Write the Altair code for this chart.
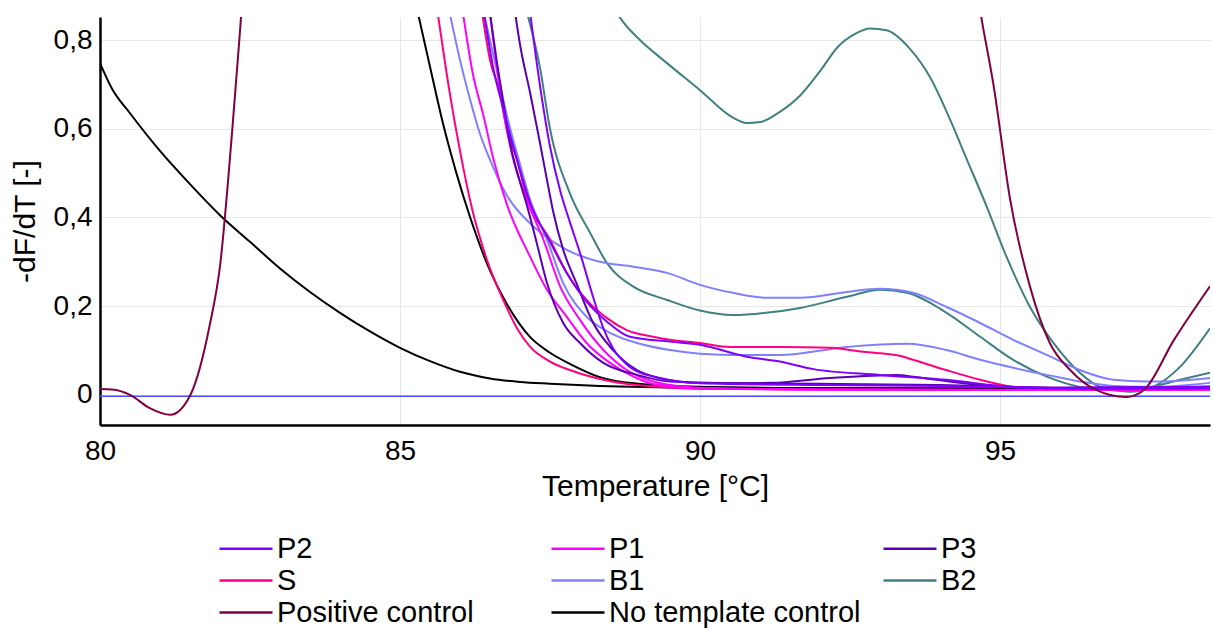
import altair as alt
import pandas as pd

FONT = "Liberation Sans"

SERIES = ["P2", "P1", "P3", "S", "B1", "B2", "Positive control", "No template control"]
COLORS = ["#8000ff", "#ff00ff", "#5a00b4", "#ff0080", "#8080ff", "#408080", "#800040", "#000000"]

X_TICKS = [80, 85, 90, 95]
Y_TICKS = [0, 0.2, 0.4, 0.6, 0.8]

# ---- curves (temperature, -dF/dT) ----
PC_T = [80.0, 80.2, 80.5, 80.83, 81.17, 81.5, 81.83, 82.0, 82.2, 82.35, 82.6, 83.5, 88.5, 93.5, 94.4,
        94.69, 94.89, 95.17, 95.5, 95.83, 96.17, 96.6, 97.1, 97.4, 97.9, 98.5]
PC_Y = [0.013, 0.012, 0.0, -0.03, -0.045, -0.002, 0.158, 0.29, 0.59, 0.85, 1.3, 2.6, 3.5, 2.2, 1.1,
        0.85, 0.70, 0.44, 0.244, 0.117, 0.056, 0.011, -0.005, 0.011, 0.124, 0.245]

NTC1_T = [80.0, 80.2, 80.5, 81.0, 81.5, 82.0, 82.5, 83.0, 83.5, 84.0, 84.5, 85.0, 85.5, 86.0, 86.5, 87.0,
          87.5, 88.33, 90.0, 92.0, 94.0, 96.0, 98.5]
NTC1_Y = [0.748, 0.69, 0.635, 0.55, 0.475, 0.405, 0.345, 0.285, 0.232, 0.185, 0.143, 0.106, 0.076, 0.052,
          0.037, 0.029, 0.025, 0.02, 0.016, 0.015, 0.015, 0.014, 0.016]

NTC2_T = [85.3, 85.5, 85.72, 85.94, 86.17, 86.5, 86.78, 87.17, 87.5, 87.83, 88.33, 88.9, 90.0, 92.0, 94.0, 96.0, 98.5]
NTC2_Y = [0.86, 0.74, 0.61, 0.50, 0.40, 0.28, 0.205, 0.13, 0.095, 0.07, 0.04, 0.026, 0.018, 0.015, 0.014, 0.013, 0.018]

S1_T = [85.63, 85.83, 86.0, 86.2, 86.45, 86.72, 86.95, 87.17, 87.5, 87.83, 88.39, 88.95, 90.0, 92.0, 94.0, 96.0, 98.5]
S1_Y = [0.86, 0.68, 0.55, 0.42, 0.304, 0.214, 0.15, 0.108, 0.075, 0.056, 0.034, 0.022, 0.014, 0.012, 0.011, 0.011, 0.012]

S2_T = [86.37, 86.5, 86.67, 86.78, 86.95, 87.11, 87.5, 87.78, 88.11, 88.45, 88.78, 89.22, 89.5, 90.0, 90.5,
        91.33, 92.17, 92.72, 93.33, 93.55, 94.1, 94.67, 95.2, 95.8, 97.0, 98.5]
S2_Y = [0.86, 0.755, 0.68, 0.60, 0.53, 0.446, 0.35, 0.275, 0.214, 0.173, 0.146, 0.131, 0.124, 0.117, 0.108,
        0.108, 0.106, 0.097, 0.088, 0.079, 0.056, 0.034, 0.018, 0.013, 0.011, 0.012]

P1A_T = [86.05, 86.22, 86.39, 86.56, 86.78, 87.17, 87.45, 87.78, 88.11, 88.5, 88.89, 89.2, 90.0, 92.0, 94.0, 96.0, 98.5]
P1A_Y = [0.86, 0.72, 0.63, 0.53, 0.43, 0.311, 0.237, 0.176, 0.117, 0.072, 0.041, 0.025, 0.014, 0.012, 0.012, 0.011, 0.012]

P1B_T = [86.5, 86.72, 86.89, 87.11, 87.39, 87.67, 88.0, 88.39, 88.78, 89.22, 90.0, 92.0, 94.0, 96.0, 98.5]
P1B_Y = [0.86, 0.64, 0.53, 0.44, 0.35, 0.244, 0.169, 0.101, 0.056, 0.03, 0.016, 0.012, 0.011, 0.011, 0.012]

P3A_T = [86.5, 86.61, 86.72, 86.83, 87.0, 87.11, 87.28, 87.45, 87.72, 88.0, 88.39, 88.95, 89.5, 90.5,
         91.17, 92.17, 93.28, 93.55, 94.67, 95.5, 97.0, 98.5]
P3A_Y = [0.86, 0.755, 0.66, 0.57, 0.48, 0.43, 0.342, 0.252, 0.162, 0.117, 0.072, 0.045, 0.03, 0.026,
         0.027, 0.038, 0.045, 0.041, 0.022, 0.016, 0.015, 0.017]

P3B_T = [86.92, 87.0, 87.17, 87.33, 87.47, 87.55, 87.72, 87.94, 88.22, 88.55, 88.95, 89.33, 90.0, 92.0, 94.0, 96.0, 98.5]
P3B_Y = [0.86, 0.79, 0.68, 0.57, 0.47, 0.415, 0.327, 0.252, 0.162, 0.101, 0.056, 0.038, 0.027, 0.025, 0.022, 0.016, 0.018]

P2A_T = [87.17, 87.33, 87.5, 87.67, 87.83, 88.0, 88.22, 88.39, 88.55, 88.83, 89.22, 90.0, 92.0, 94.0, 96.0, 98.5]
P2A_Y = [0.86, 0.70, 0.56, 0.46, 0.39, 0.32, 0.22, 0.15, 0.105, 0.063, 0.041, 0.026, 0.022, 0.02, 0.016, 0.018]

P2B_T = [86.4, 86.55, 86.75, 86.95, 87.15, 87.5, 87.8, 88.11, 88.45, 88.83, 89.5, 90.0, 90.78, 91.33,
         91.89, 93.0, 94.1, 95.2, 96.5, 98.5]
P2B_Y = [0.86, 0.74, 0.63, 0.53, 0.44, 0.345, 0.27, 0.21, 0.165, 0.131, 0.12, 0.113, 0.086, 0.075,
         0.058, 0.045, 0.034, 0.018, 0.013, 0.015]

B1A_T = [85.83, 86.0, 86.17, 86.33, 86.5, 86.78, 87.22, 87.78, 88.33, 88.89, 89.45, 90.0, 90.55, 91.11,
         91.67, 92.45, 93.0, 93.55, 94.11, 94.67, 95.22, 95.78, 96.33, 96.89, 97.45, 98.0, 98.5]
B1A_Y = [0.86, 0.755, 0.665, 0.59, 0.53, 0.45, 0.38, 0.327, 0.30, 0.289, 0.275, 0.248, 0.23, 0.219,
         0.219, 0.232, 0.239, 0.23, 0.198, 0.162, 0.124, 0.09, 0.056, 0.034, 0.03, 0.032, 0.038]

B1B_T = [86.4, 86.6, 86.8, 87.0, 87.17, 87.45, 87.72, 88.11, 88.5, 88.95, 89.5, 90.5, 91.33, 92.45,
         93.45, 94.11, 94.67, 95.22, 95.78, 96.33, 96.9, 97.5, 98.5]
B1B_Y = [0.86, 0.74, 0.62, 0.52, 0.44, 0.35, 0.252, 0.176, 0.14, 0.117, 0.101, 0.09, 0.09, 0.108,
         0.115, 0.101, 0.079, 0.061, 0.045, 0.03, 0.02, 0.018, 0.027]

B2A_T = [88.3, 88.67, 89.0, 89.45, 90.0, 90.55, 90.78, 91.0, 91.33, 91.67, 92.0, 92.3, 92.6, 92.83, 93.11,
         93.5, 93.83, 94.17, 94.45, 94.78, 95.11, 95.5, 95.89, 96.33, 96.67, 97.17, 97.55, 98.0, 98.5]
B2A_Y = [0.95, 0.85, 0.80, 0.748, 0.687, 0.625, 0.613, 0.615, 0.638, 0.675, 0.73, 0.785, 0.815, 0.826, 0.822,
         0.78, 0.717, 0.62, 0.53, 0.424, 0.311, 0.198, 0.117, 0.05, 0.018, 0.007, 0.018, 0.063, 0.15]

B2B_T = [87.12, 87.33, 87.5, 87.83, 88.17, 88.45, 88.89, 89.45, 90.0, 90.55, 91.1, 91.67, 92.45, 93.0,
         93.45, 94.11, 94.67, 95.22, 95.78, 96.33, 96.89, 97.45, 98.0, 98.5]
B2B_Y = [0.86, 0.74, 0.60, 0.455, 0.365, 0.297, 0.244, 0.214, 0.19, 0.18, 0.185, 0.196, 0.221, 0.237,
         0.23, 0.185, 0.131, 0.079, 0.041, 0.018, 0.011, 0.016, 0.034, 0.05]

THRESH_T = [80.0, 98.5]
THRESH_Y = [-0.003, -0.003]

CURVES = [
    ("No template control", NTC1_T, NTC1_Y),
    ("No template control", NTC2_T, NTC2_Y),
    ("B2", B2A_T, B2A_Y),
    ("B2", B2B_T, B2B_Y),
    ("B1", B1A_T, B1A_Y),
    ("B1", B1B_T, B1B_Y),
    ("S", S1_T, S1_Y),
    ("S", S2_T, S2_Y),
    ("P1", P1A_T, P1A_Y),
    ("P1", P1B_T, P1B_Y),
    ("P3", P3A_T, P3A_Y),
    ("P3", P3B_T, P3B_Y),
    ("P2", P2A_T, P2A_Y),
    ("P2", P2B_T, P2B_Y),
    ("Positive control", PC_T, PC_Y),
]

rows = []
for i, (name, ts, ys) in enumerate(CURVES):
    for t, v in zip(ts, ys):
        rows.append({"curve": i, "series": name, "t": t, "v": v})
df = pd.DataFrame(rows)
thr = pd.DataFrame({"t": THRESH_T, "v": THRESH_Y})

x_scale = alt.Scale(domain=[80, 98.5], nice=False, zero=False)
y_scale = alt.Scale(domain=[-0.068, 0.852], nice=False, zero=False)

x_enc = alt.X("t:Q", scale=x_scale,
              axis=alt.Axis(values=X_TICKS, title="Temperature [°C]", labelFlush=False,
                            labelPadding=12, titlePadding=6))
y_enc = alt.Y("v:Q", scale=y_scale,
              axis=alt.Axis(values=Y_TICKS, title="-dF/dT [-]", labelPadding=8, titlePadding=13,
                            labelExpr="datum.value == 0 ? '0' : replace(format(datum.value, '.1f'), '.', ',')"))

threshold = alt.Chart(thr).mark_line(color="#4d4dff", strokeWidth=1.5, clip=True).encode(x=x_enc, y=y_enc)

lines = alt.Chart(df).mark_line(clip=True, strokeWidth=2, interpolate="monotone").encode(
    x=x_enc,
    y=y_enc,
    color=alt.Color("series:N", scale=alt.Scale(domain=SERIES, range=COLORS),
                    legend=alt.Legend(title=None, orient="none", legendX=118, legendY=519,
                                      direction="horizontal", columns=3, symbolType="stroke",
                                      symbolSize=2809, symbolStrokeWidth=2.5,
                                      labelFont=FONT, labelFontSize=29, labelColor="black",
                                      labelLimit=600, clipHeight=25, rowPadding=2, columnPadding=21,
                                      gridAlign="all", labelOffset=3, padding=0)),
    detail="curve:N",
)

chart = alt.layer(threshold, lines).properties(
    width=1110, height=408,
    autosize=alt.AutoSizeParams(type="none"),
    padding={"left": 100, "top": 17, "right": 3, "bottom": 207},
    background="white",
).configure_view(stroke=None).configure_axis(
    domainColor="black", domainWidth=2.5, ticks=False,
    gridColor="#e6e6e6", gridWidth=1,
    labelFont=FONT, labelFontSize=28, labelColor="black",
    titleFont=FONT, titleFontSize=30, titleFontWeight="normal", titleColor="black",
)

chart.save("out.html", embed_options={"renderer": "svg", "actions": False})
